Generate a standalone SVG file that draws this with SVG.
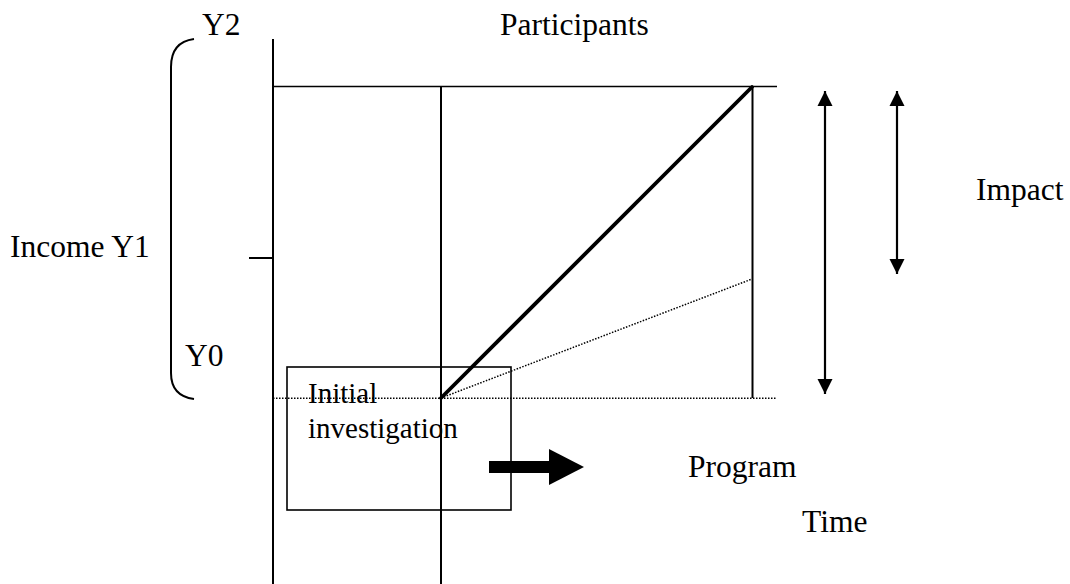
<svg xmlns="http://www.w3.org/2000/svg" width="1070" height="584" viewBox="0 0 1070 584">
  <style>
    .lbl { font-family: "Liberation Serif", "Times New Roman", serif; font-size: 31.5px; fill: #000; }
    .box-lbl { font-family: "Liberation Serif", "Times New Roman", serif; font-size: 29px; fill: #000; }
    .ln { stroke: #000; stroke-width: 2; fill: none; }
    .thin { stroke: #000; stroke-width: 1.6; fill: none; }
    .dot { stroke: #000; stroke-width: 1.5; stroke-dasharray: 1.5 1.5; fill: none; }
    .thick { stroke: #000; stroke-width: 3.8; fill: none; stroke-linecap: round; }
    .dbl { stroke: #000; stroke-width: 2.2; fill: none; }
  </style>
  <defs>
    <marker id="tri" viewBox="0 0 10 10" refX="10" refY="5" markerWidth="7" markerHeight="7" markerUnits="strokeWidth" orient="auto-start-reverse">
      <path d="M0,0 L10,5 L0,10 z" fill="#000"/>
    </marker>
  </defs>
  <rect width="1070" height="584" fill="#fff"/>

  <!-- income axis with brace and tick -->
  <g id="income-axis">
    <line class="ln" x1="273" y1="39" x2="273" y2="584"/>
    <line class="ln" x1="249" y1="258" x2="273" y2="258"/>
    <path class="ln" d="M194,39 Q171,42 171,67 L171,373 Q171,396 194,399"/>
  </g>

  <!-- participant frame -->
  <g id="frame">
    <line class="thin" x1="273" y1="86.5" x2="777" y2="86.5"/>
    <line class="ln" x1="441" y1="86.5" x2="441" y2="584"/>
    <line class="ln" x1="752.5" y1="86.5" x2="752.5" y2="398"/>
    <line class="dot" x1="273" y1="398.3" x2="777" y2="398.3"/>
  </g>

  <!-- initial investigation box -->
  <g id="initial-investigation">
    <rect class="thin" x="287" y="367" width="224" height="143"/>
    <text class="box-lbl" x="308" y="403">Initial</text>
    <text class="box-lbl" x="308" y="438">investigation</text>
  </g>

  <!-- program direction arrow -->
  <g id="program-arrow">
    <rect x="489" y="461" width="61" height="12" fill="#000"/>
    <polygon points="549,449 584,467 549,485" fill="#000"/>
  </g>

  <g id="connectors">
    <line class="thick" x1="441" y1="398" x2="752" y2="87"/>
    <line class="dot" x1="441" y1="398" x2="752" y2="279"/>
    <line class="dbl" x1="825" y1="91" x2="825" y2="394" marker-start="url(#tri)" marker-end="url(#tri)"/>
    <line class="dbl" x1="897" y1="91" x2="897" y2="274" marker-start="url(#tri)" marker-end="url(#tri)"/>
  </g>

  <g id="labels">
    <text class="lbl" x="202" y="35">Y2</text>
    <text class="lbl" x="500" y="35">Participants</text>
    <text class="lbl" x="10" y="257">Income Y1</text>
    <text class="lbl" x="185" y="366">Y0</text>
    <text class="lbl" x="976" y="200">Impact</text>
    <text class="lbl" x="688" y="477">Program</text>
    <text class="lbl" x="802" y="532">Time</text>
  </g>
</svg>
